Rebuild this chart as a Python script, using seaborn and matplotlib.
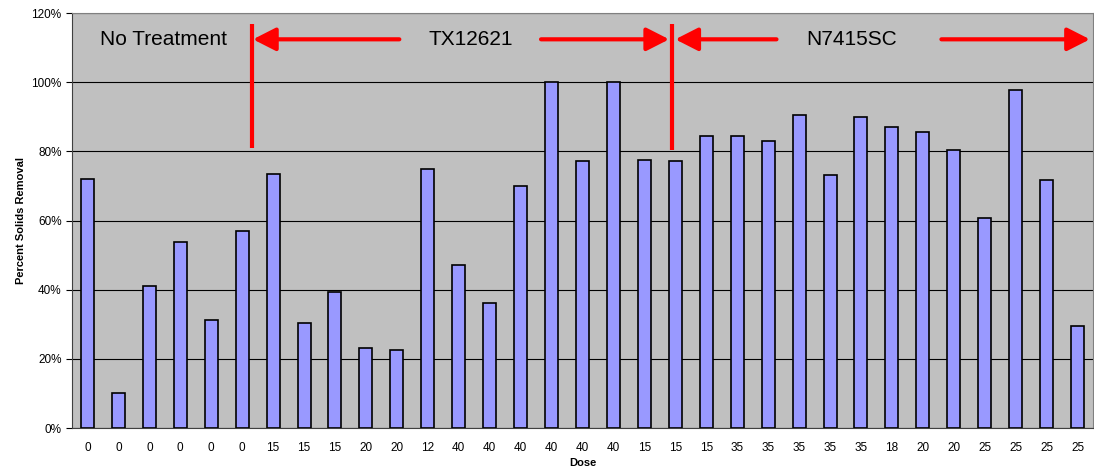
import numpy as np
import pandas as pd
import seaborn as sns
import matplotlib.pyplot as plt

dose = ['0', '0', '0', '0', '0', '0', '15', '15', '15', '20', '20', '12',
        '40', '40', '40', '40', '40', '40', '15', '15', '15', '35', '35', '35',
        '35', '35', '18', '20', '20', '25', '25', '25', '25']
removal = [72.0, 10.2, 41.2, 53.8, 31.2, 56.9, 73.5, 30.3, 39.4, 23.2, 22.5, 74.8,
           47.1, 36.2, 69.9, 100.0, 77.2, 100.0, 77.4, 77.2, 84.4, 84.3, 82.9, 90.4,
           73.2, 90.0, 87.0, 85.5, 80.3, 60.7, 97.7, 71.7, 29.5]
groups = ['No Treatment', 'TX12621', 'N7415SC']

df = pd.DataFrame({'pos': range(len(dose)), 'dose': dose, 'removal': removal})

sns.set_style('white')
plt.rcParams['font.family'] = ['Liberation Sans', 'DejaVu Sans']
plt.rcParams['text.color'] = 'black'
plt.rcParams['axes.labelcolor'] = 'black'
plt.rcParams['xtick.color'] = 'black'
plt.rcParams['ytick.color'] = 'black'

fig = plt.figure(figsize=(10.94, 4.74), dpi=100)
ax = fig.add_axes([0.0658, 0.097, 0.9333, 0.8755])
ax.set_facecolor('#C0C0C0')

sns.barplot(data=df, x='pos', y='removal', color='#9999FF', edgecolor='black',
            linewidth=1.2, width=0.42, saturation=1, ax=ax, zorder=3)

ax.set_xlim(-0.5, len(dose) - 0.5)
ax.set_ylim(0, 120)
ax.set_yticks(np.arange(0, 121, 20))
ax.set_yticklabels([f'{v}%' for v in range(0, 121, 20)], fontsize=8.5)
ax.yaxis.grid(True, color='black', lw=0.8, zorder=1)
ax.set_axisbelow(True)

ax.set_xticks(range(len(dose)))
ax.set_xticklabels(dose, fontsize=8.5)
ax.set_xticks(np.arange(-0.5, len(dose), 1), minor=True)
ax.tick_params(axis='x', which='major', length=0, pad=10)
ax.tick_params(axis='x', which='minor', length=4, color='black', direction='out')
ax.tick_params(axis='y', length=4, color='black', direction='out', left=True)

ax.set_xlabel('Dose', fontsize=8, fontweight='bold', labelpad=3)
ax.set_ylabel('Percent Solids Removal', fontsize=8, fontweight='bold', labelpad=4)

for s in ['top', 'right']:
    ax.spines[s].set_color('#808080')
for s in ['left', 'bottom']:
    ax.spines[s].set_color('#404040')

# group markers
red = '#FF0000'
arrow = dict(arrowstyle='-|>,head_length=0.55,head_width=0.28', mutation_scale=25,
             color=red, lw=3, shrinkA=0, shrinkB=0)
ay = 112.4
ax.plot([5.31, 5.31], [80.9, 116.8], color=red, lw=3, solid_capstyle='butt')
ax.plot([18.9, 18.9], [80.3, 116.8], color=red, lw=3, solid_capstyle='butt')
ax.annotate('', xy=(5.35, ay), xytext=(10.08, ay), arrowprops=arrow)
ax.annotate('', xy=(18.8, ay), xytext=(14.66, ay), arrowprops=arrow)
ax.annotate('', xy=(19.0, ay), xytext=(22.27, ay), arrowprops=arrow)
ax.annotate('', xy=(32.4, ay), xytext=(27.6, ay), arrowprops=arrow)

ax.text(2.47, ay, groups[0], fontsize=15, ha='center', va='center')
ax.text(12.4, ay, groups[1], fontsize=15, ha='center', va='center')
ax.text(24.7, ay, groups[2], fontsize=15, ha='center', va='center')

plt.savefig('out.png', dpi=100)
